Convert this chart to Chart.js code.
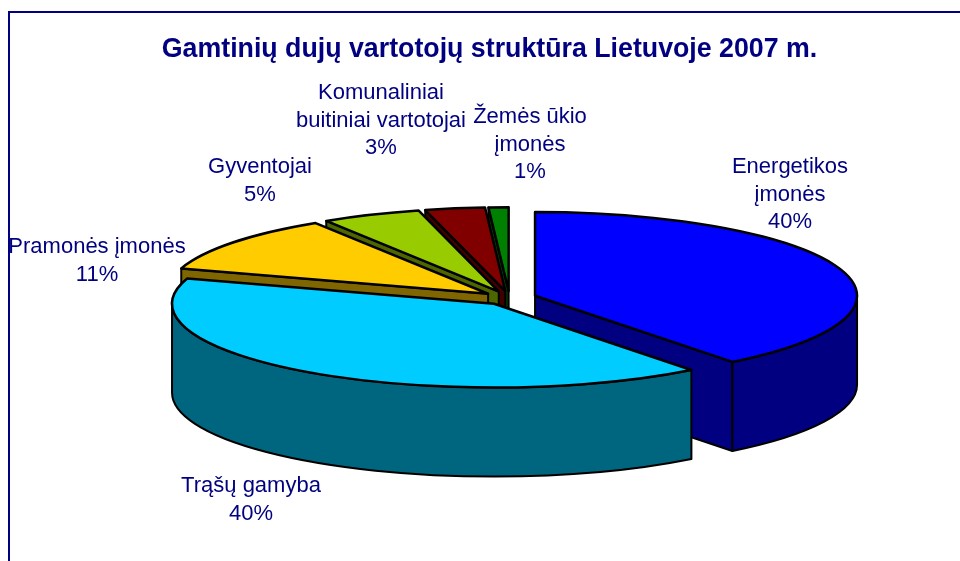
<!DOCTYPE html>
<html>
<head>
<meta charset="utf-8">
<style>
    html, body { margin: 0; padding: 0; background: #fff; }
    #wrap { width: 960px; height: 561px; }
</style>
<script src="https://cdn.jsdelivr.net/npm/chart.js@4/dist/chart.umd.min.js"></script>
</head>
<body>
<div id="wrap"><canvas id="pie" width="960" height="561"></canvas></div>
<script>
const chartTitle = 'Gamtinių dujų vartotojų struktūra Lietuvoje 2007 m.';
const categories = [
    ['Energetikos', 'įmonės'],
    ['Trąšų gamyba'],
    ['Pramonės įmonės'],
    ['Gyventojai'],
    ['Komunaliniai', 'buitiniai vartotojai'],
    ['Žemės ūkio', 'įmonės']
];
// the printed labels are rounded
const shares = [39.5, 40.4, 11.1, 5, 3, 1];
const topColors = ['#0000ff', '#00ccff', '#ffcc00', '#99cc00', '#800000', '#008000'];
const wallColors = ['#000080', '#006680', '#806600', '#4d6600', '#400000', '#004000'];

// label centres, first line
const labelAnchors = [[790, 167], [251, 486], [97, 247], [260, 167], [381, 93], [530, 117]];

const navy = '#000080';
const squash = 0.26;    // y scale of the tilted pie
const depth = 89;
const explode = 27;
const shiftX = 20;      // title is centred at 489.5, pie centre sits at 510
const shiftY = -16;
const drawOrder = [5, 4, 3, 2, 0, 1];

function sliceTip(el) {
    const mid = (el.startAngle + el.endAngle) / 2;
    return {
        x: el.x + shiftX + Math.cos(mid) * explode,
        y: el.y + shiftY + Math.sin(mid) * explode * squash
    };
}

function drawSlice(ctx, el, i) {
    const tip = sliceTip(el);
    const R = el.outerRadius;
    const ry = R * squash;

    ctx.lineWidth = 2;
    ctx.lineJoin = 'round';
    ctx.strokeStyle = '#000';
    ctx.fillStyle = wallColors[i];

    // radial side faces
    [[el.startAngle, Math.cos(el.startAngle) < -1e-6], [el.endAngle, Math.cos(el.endAngle) > 1e-6]].forEach(([a, visible]) => {
        if (!visible) return;
        const ex = tip.x + Math.cos(a) * R;
        const ey = tip.y + Math.sin(a) * ry;
        ctx.beginPath();
        ctx.moveTo(tip.x, tip.y);
        ctx.lineTo(ex, ey);
        ctx.lineTo(ex, ey + depth);
        ctx.lineTo(tip.x, tip.y + depth);
        ctx.closePath();
        ctx.fill();
        ctx.stroke();
    });

    // outer wall, only the part facing us
    const a = Math.max(el.startAngle, 0);
    const b = Math.min(el.endAngle, Math.PI);
    if (b > a) {
        ctx.beginPath();
        ctx.ellipse(tip.x, tip.y, R, ry, 0, a, b);
        ctx.ellipse(tip.x, tip.y + depth, R, ry, 0, b, a, true);
        ctx.closePath();
        ctx.fill();
        ctx.stroke();
    }

    // top face comes from the arc element itself
    ctx.save();
    ctx.translate(tip.x, tip.y);
    ctx.scale(1, squash);
    ctx.translate(-el.x, -el.y);
    el.draw(ctx);
    ctx.restore();

    ctx.lineWidth = 2.5;
    ctx.beginPath();
    ctx.moveTo(tip.x, tip.y);
    ctx.ellipse(tip.x, tip.y, R, ry, 0, el.startAngle, el.endAngle);
    ctx.closePath();
    ctx.stroke();
}

const pie3d = {
    id: 'pie3d',
    beforeDraw(chart) {
        // frame runs off the right and bottom of the picture
        const ctx = chart.ctx;
        ctx.save();
        ctx.strokeStyle = navy;
        ctx.lineWidth = 2;
        ctx.beginPath();
        ctx.moveTo(960, 12);
        ctx.lineTo(9, 12);
        ctx.lineTo(9, 561);
        ctx.stroke();
        ctx.restore();
    },
    beforeDatasetDraw(chart, args) {
        const ctx = chart.ctx;
        ctx.save();
        drawOrder.forEach(i => drawSlice(ctx, args.meta.data[i], i));
        ctx.restore();
        return false;
    },
    afterDraw(chart) {
        const ctx = chart.ctx;
        ctx.save();
        ctx.fillStyle = navy;
        ctx.font = '22px "Liberation Sans", Arial, sans-serif';
        ctx.textAlign = 'center';
        ctx.textBaseline = 'middle';
        categories.forEach((lines, i) => {
            const [x, y] = labelAnchors[i];
            lines.concat(Math.round(shares[i]) + '%').forEach((line, n) => {
                ctx.fillText(line, x, y + n * 27.7);
            });
        });
        ctx.restore();
    }
};

new Chart(document.getElementById('pie'), {
    type: 'pie',
    data: {
        labels: categories,
        datasets: [{
            data: shares,
            backgroundColor: topColors,
            borderWidth: 0,
            clip: false
        }]
    },
    options: {
        responsive: false,
        animation: false,
        radius: 322,
        layout: { padding: { left: 19, top: 0, right: 0, bottom: 0 } },
        plugins: {
            legend: { display: false },
            tooltip: { enabled: false },
            title: {
                display: true,
                text: chartTitle,
                color: navy,
                font: { family: '"Liberation Sans", Arial, sans-serif', size: 26.75, weight: 'bold' },
                padding: { top: 34, bottom: 1 }
            }
        }
    },
    plugins: [pie3d]
});
</script>
</body>
</html>
